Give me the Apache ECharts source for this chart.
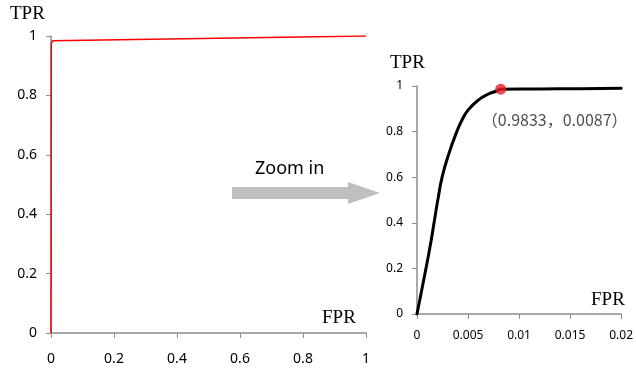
<!DOCTYPE html>
<html><head><meta charset="utf-8">
<script src="https://cdn.jsdelivr.net/npm/echarts@6/dist/echarts.min.js"></script>
<style>html,body{margin:0;padding:0;background:#fff}#c{width:636px;height:374px}</style>
</head><body><div id="c"></div>
<script>
// Full ROC curve (FPR, TPR)
const fullFPR = [0, 0.001, 0.005, 1];
const fullTPR = [0, 0.975, 0.984, 1];
// Zoomed ROC curve (FPR, TPR)
const zoomFPR = [0, 0.00044, 0.00088, 0.0013, 0.00167, 0.00204, 0.00246, 0.0031, 0.0039, 0.0044, 0.005, 0.006, 0.007, 0.0078, 0.0082, 0.012, 0.016, 0.02];
const zoomTPR = [0, 0.1, 0.2, 0.3, 0.4, 0.5, 0.6, 0.7, 0.8, 0.85, 0.894, 0.938, 0.965, 0.978, 0.986, 0.987, 0.988, 0.99];
const markPoint = [0.0082, 0.986];
const markLabel = '（0.9833，0.0087）';
const leftXTicks = [0, 0.2, 0.4, 0.6, 0.8, 1];
const rightXTicks = [0, 0.005, 0.01, 0.015, 0.02];
const yTicks = [0, 0.2, 0.4, 0.6, 0.8, 1];

const chart = echarts.init(document.getElementById('c'));
const axisCol = '#8c8c8c';
const lblFont = '"Noto Sans", "DejaVu Sans", sans-serif';
function xAx(idx, max, interval, size, margin) {
  return {type:'value', gridIndex:idx, min:0, max:max, interval:interval,
    axisLine:{show:true, lineStyle:{color:axisCol, width:1.5}},
    axisTick:{show:true, inside:false, length:5, lineStyle:{color:axisCol}},
    splitLine:{show:false},
    axisLabel:{color:'#000', fontSize:size, fontFamily:lblFont, margin:margin,
      formatter: v => String(+v.toFixed(4))}};
}
function yAx(idx, size, margin) {
  return {type:'value', gridIndex:idx, min:0, max:1, interval:0.2,
    axisLine:{show:true, lineStyle:{color:axisCol, width:1.5}},
    axisTick:{show:true, inside:false, length:5, lineStyle:{color:axisCol}},
    splitLine:{show:false},
    axisLabel:{color:'#000', fontSize:size, fontFamily:lblFont, margin:margin,
      formatter: v => String(+v.toFixed(1))}};
}
chart.setOption({
  animation:false,
  grid:[
    {left:51, top:36, width:315, height:297},
    {left:417, top:86, width:208, height:228}
  ],
  xAxis:[xAx(0, 1, 0.2, 14, 19), xAx(1, 0.02, 0.005, 12, 16)],
  yAxis:[yAx(0, 14, 14), yAx(1, 12, 14)],
  series:[
    {type:'line', xAxisIndex:0, yAxisIndex:0, showSymbol:false,
     data: fullFPR.map((x,i)=>[x, fullTPR[i]]),
     lineStyle:{color:'#ff0000', width:1.5}},
    {type:'line', xAxisIndex:1, yAxisIndex:1, showSymbol:false, smooth:0.5,
     data: zoomFPR.map((x,i)=>[x, zoomTPR[i]]),
     lineStyle:{color:'#000', width:3, join:'round', cap:'round'}},
    {type:'scatter', xAxisIndex:1, yAxisIndex:1, symbolSize:11, z:5,
     itemStyle:{color:'#ee1c25'},
     data:[markPoint],
     label:{show:true, formatter:markLabel, position:'bottom', distance:17, offset:[54,0],
       color:'#222', fontSize:16, fontFamily:'"Noto Sans CJK SC", sans-serif'}}
  ],
  graphic:[
    {type:'text', left:10, top:5, style:{text:'TPR', fontSize:19, fontFamily:'"Liberation Serif", serif', fill:'#000'}},
    {type:'text', left:322, top:309, style:{text:'FPR', fontSize:19, fontFamily:'"Liberation Serif", serif', fill:'#000'}},
    {type:'text', left:390, top:54, style:{text:'TPR', fontSize:19, fontFamily:'"Liberation Serif", serif', fill:'#000'}},
    {type:'text', left:591, top:291, style:{text:'FPR', fontSize:19, fontFamily:'"Liberation Serif", serif', fill:'#000'}},
    {type:'text', left:255, top:160, style:{text:'Zoom in', fontSize:18, fontFamily:lblFont, fill:'#000'}},
    {type:'polygon', shape:{points:[[232,187],[348,187],[348,182],[380,193],[348,204],[348,199],[232,199]]},
     style:{fill:'#bfbfbf'}}
  ]
});
</script></body></html>
